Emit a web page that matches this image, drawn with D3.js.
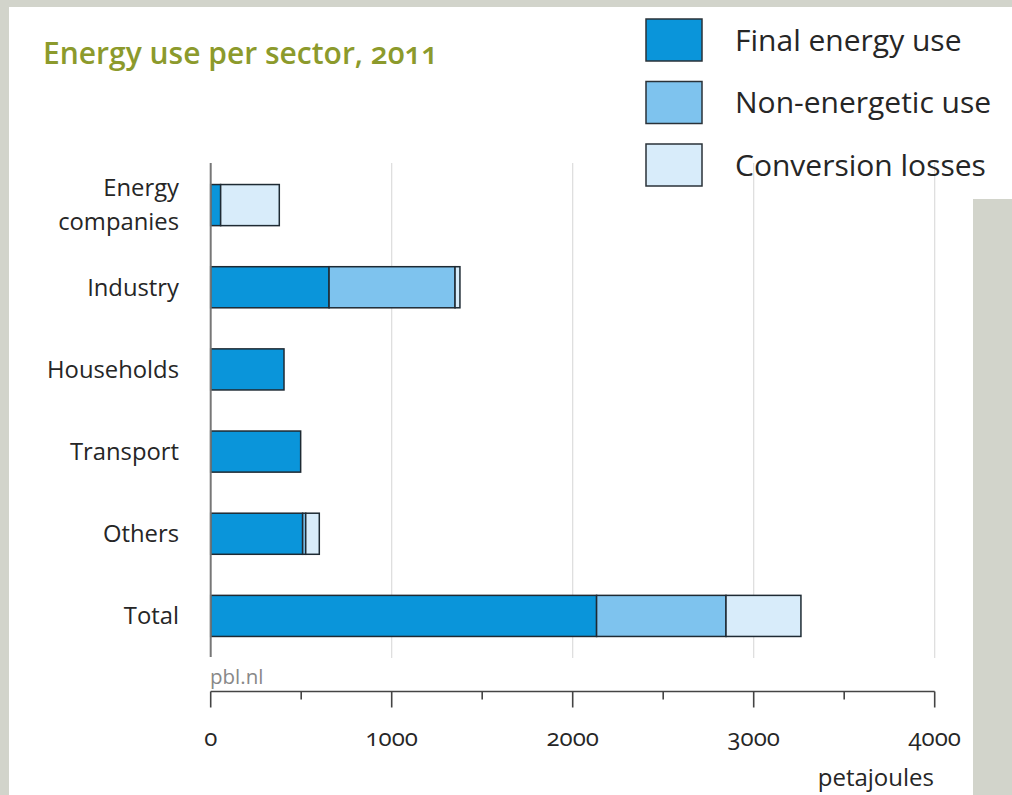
<!DOCTYPE html>
<html><head><meta charset="utf-8">
<script src="https://cdn.jsdelivr.net/npm/d3@7"></script>
<style>
body{margin:0;background:#d2d4cb;}
text{font-family:"Open Sans","Noto Sans",sans-serif;}
.num{font-variant-numeric:oldstyle-nums;font-feature-settings:"onum" 1;}
</style></head><body>
<svg id="c" width="1012" height="795"></svg>
<script>
const categories = ["Energy companies","Industry","Households","Transport","Others","Total"];
const seriesNames = ["Final energy use","Non-energetic use","Conversion losses"];
const finalEnergy   = [55, 654, 405, 497, 508, 2132];
const nonEnergetic  = [0, 696, 0, 0, 17, 715];
const conversion    = [324, 27, 0, 0, 75, 414];
const xTicks = [0,1000,2000,3000,4000];
const colors = ["#0a95da","#7ec3ee","#d8ecfa"];

const svg = d3.select("#c");
svg.append("rect").attr("x",0).attr("y",0).attr("width",1012).attr("height",795).attr("fill","#d2d4cb");
svg.append("rect").attr("x",9).attr("y",7).attr("width",964).attr("height",788).attr("fill","#fff");
svg.append("rect").attr("x",640).attr("y",7).attr("width",372).attr("height",192).attr("fill","#fff");

const x = d3.scaleLinear().domain([0,4000]).range([210.7,934.7]);
const y = d3.scaleBand().domain(categories).range([164,657]).paddingInner(0.5).paddingOuter(0.25);

// title
svg.append("text").attr("class","num").attr("x",43).attr("y",64).attr("font-size",30).attr("font-weight",600)
  .attr("fill","#8c9a2c").text("Energy use per sector, 2011");

// gridlines
svg.append("g").selectAll("line").data(xTicks.slice(1)).join("line")
  .attr("x1",d=>x(d)).attr("x2",d=>x(d)).attr("y1",163).attr("y2",658)
  .attr("stroke","#dcdcdc").attr("stroke-width",1.2);

// stacked data
const rows = categories.map((c,i)=>({cat:c, "Final energy use":finalEnergy[i], "Non-energetic use":nonEnergetic[i], "Conversion losses":conversion[i]}));
const stack = d3.stack().keys(seriesNames)(rows);
svg.append("g").selectAll("g").data(stack).join("g").attr("fill",(d,i)=>colors[i])
  .selectAll("rect").data(d=>d.filter(p=>p[1]-p[0]>0)).join("rect")
  .attr("x",d=>x(d[0])).attr("width",d=>x(d[1])-x(d[0]))
  .attr("y",d=>y(d.data.cat)).attr("height",y.bandwidth())
  .attr("stroke","#1e2a33").attr("stroke-width",1.5);

// y axis line
svg.append("line").attr("x1",x(0)).attr("x2",x(0)).attr("y1",163).attr("y2",657).attr("stroke","#777").attr("stroke-width",2);

// category labels
const lab = svg.append("g").attr("font-size",23.8).attr("fill","#262626").attr("text-anchor","end");
categories.forEach(c=>{
  const cy = y(c)+y.bandwidth()/2;
  const parts = c==="Energy companies" ? ["Energy","companies"] : [c];
  parts.forEach((p,j)=>{
    lab.append("text").attr("x",179).attr("y",cy + (j - (parts.length-1)/2)*34).attr("dy","0.35em").text(p);
  });
});

// pbl.nl
svg.append("text").attr("x",210).attr("y",684).attr("font-size",20.5).attr("fill","#888").text("pbl.nl");

// x axis
const xAxis = svg.append("g").attr("transform","translate(0,691.5)");
xAxis.append("line").attr("x1",x(0)).attr("x2",x(4000)).attr("stroke","#444").attr("stroke-width",1.6);
const minor = d3.range(0,4001,500);
xAxis.selectAll("line.t").data(minor).join("line").attr("class","t")
  .attr("x1",d=>x(d)).attr("x2",d=>x(d)).attr("y1",0).attr("y2",d=>d%1000===0?16:8)
  .attr("stroke","#444").attr("stroke-width",1.6);
xAxis.selectAll("text").data(xTicks).join("text").attr("class","num")
  .attr("x",d=>x(d)).attr("y",46).attr("dy","0.35em").attr("text-anchor","middle")
  .attr("font-size",24).attr("fill","#262626").text(d=>d);
svg.append("text").attr("x",934).attr("y",778).attr("dy","0.35em").attr("text-anchor","end")
  .attr("font-size",24).attr("fill","#262626").text("petajoules");

// legend
const lg = svg.append("g");
seriesNames.forEach((s,i)=>{
  const yy = 19 + i*62.5;
  lg.append("rect").attr("x",646).attr("y",yy).attr("width",56).attr("height",42)
    .attr("fill",colors[i]).attr("stroke","#2a3238").attr("stroke-width",1.5);
  lg.append("text").attr("x",735).attr("y",yy+21).attr("dy","0.35em").attr("font-size",30).attr("fill","#262626").text(s);
});
</script>
</body></html>
